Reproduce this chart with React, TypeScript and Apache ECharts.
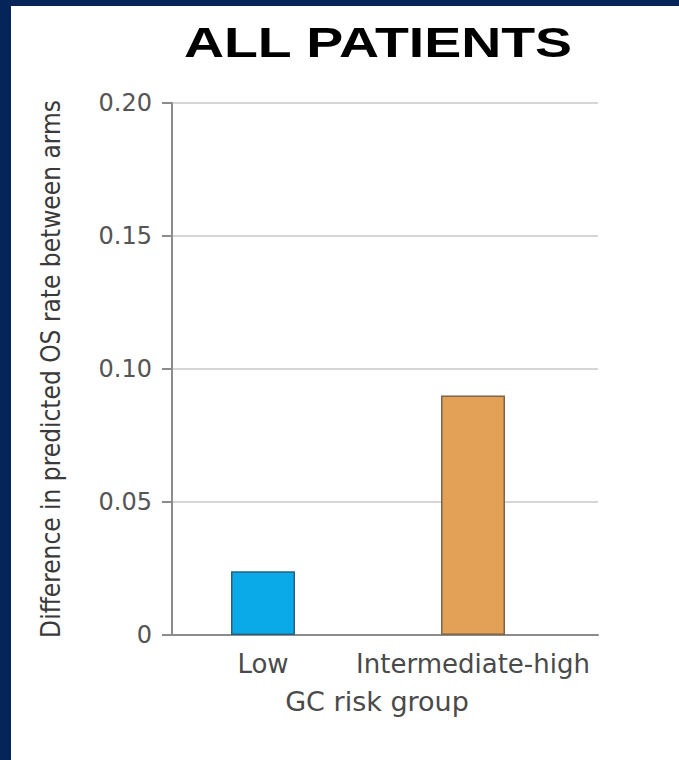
import React, { useEffect, useRef } from "react";
import * as echarts from "echarts";

// GC risk groups and the difference in predicted OS rate between arms
const riskGroups = ["Low", "Intermediate-high"];
const osDifference = [0.024, 0.09];
const barColors = ["#0aaae9", "#e2a157"];
const barBorders = ["#2a5f7e", "#7d6548"];
const yTicks = [0, 0.05, 0.1, 0.15, 0.2];

const tickLabel = (v: number) => (v === 0 ? "0" : v.toFixed(2));

export default function App() {
  const ref = useRef<HTMLDivElement>(null);

  useEffect(() => {
    document.body.style.margin = "0";
    const chart = echarts.init(ref.current!, undefined, { renderer: "svg" });
    const yMin = yTicks[0];
    const yMax = yTicks[yTicks.length - 1];
    const yStep = yTicks[1] - yTicks[0];

    chart.setOption({
      animation: false,
      backgroundColor: "#ffffff",
      graphic: [
        { type: "rect", left: 0, top: 0, shape: { width: 11, height: 760 }, style: { fill: "#04245a" } },
        { type: "rect", left: 0, top: 0, shape: { width: 679, height: 6 }, style: { fill: "#04245a" } },
        {
          type: "text",
          x: 378,
          y: 42,
          scaleX: 1.29,
          style: {
            text: "ALL PATIENTS",
            font: "bold 43px 'Liberation Sans', Arial, sans-serif",
            fill: "#000000",
            align: "center",
            verticalAlign: "middle",
          },
        },
      ],
      grid: [
        { left: 172, top: 103, width: 426, height: 532 },
        { left: 158, top: 103, width: 420, height: 532 },
      ],
      xAxis: [
        {
          type: "category",
          gridIndex: 0,
          data: riskGroups,
          axisLine: { show: true, lineStyle: { color: "#8c8c8c", width: 2 } },
          axisTick: { show: false },
          axisLabel: { show: false },
        },
        {
          type: "category",
          gridIndex: 1,
          data: riskGroups,
          axisLine: { show: false },
          axisTick: { show: false },
          axisLabel: {
            interval: 0,
            margin: 16,
            color: "#4a4a4a",
            fontSize: 26,
            fontFamily: "'DejaVu Sans', sans-serif",
          },
          name: "GC risk group",
          nameLocation: "middle",
          nameGap: 53,
          nameTextStyle: {
            color: "#4a4a4a",
            fontSize: 27,
            fontFamily: "'DejaVu Sans', sans-serif",
            padding: [0, 0, 0, 18],
          },
        },
      ],
      yAxis: [
        {
          type: "value",
          gridIndex: 0,
          min: yMin,
          max: yMax,
          interval: yStep,
          axisLine: { show: true, lineStyle: { color: "#8c8c8c", width: 2 } },
          axisTick: { show: true, length: 10, lineStyle: { color: "#8c8c8c", width: 2 } },
          splitLine: { show: true, lineStyle: { color: "#d6d6d6", width: 2 } },
          axisLabel: {
            margin: 20,
            color: "#555555",
            fontSize: 24,
            fontFamily: "'DejaVu Sans', sans-serif",
            formatter: tickLabel,
          },
          name: "Difference in predicted OS rate between arms",
          nameLocation: "middle",
          nameGap: 108,
          nameTextStyle: {
            color: "#3a3a3a",
            fontSize: 26,
            fontFamily: "'Liberation Sans Narrow', 'DejaVu Sans Condensed', sans-serif",
          },
        },
        {
          type: "value",
          gridIndex: 1,
          min: yMin,
          max: yMax,
          interval: yStep,
          show: false,
          splitLine: { show: false },
        },
      ],
      series: [
        {
          type: "bar",
          xAxisIndex: 1,
          yAxisIndex: 1,
          barWidth: 64,
          data: osDifference.map((v, i) => ({
            value: v,
            itemStyle: { color: barColors[i], borderColor: barBorders[i], borderWidth: 1.5 },
          })),
        },
      ],
    });

    return () => chart.dispose();
  }, []);

  return <div ref={ref} style={{ width: 679, height: 760 }} />;
}
